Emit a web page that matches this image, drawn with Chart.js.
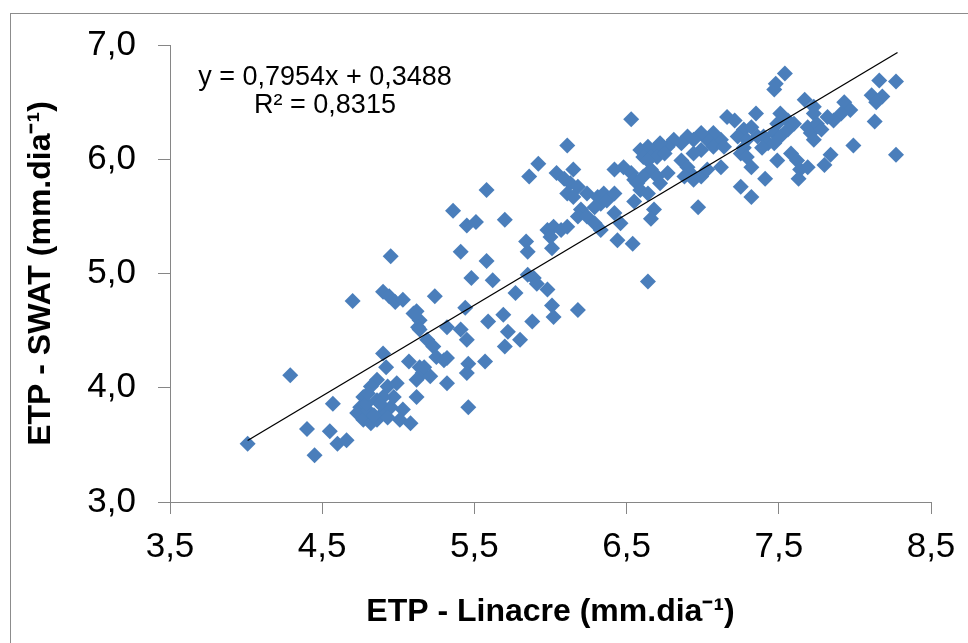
<!DOCTYPE html>
<html lang="pt">
<head>
    <meta charset="UTF-8">
    <title>ETP - Linacre x ETP - SWAT</title>
    <!-- Chart.js dal CDN -->
    <script src="https://cdn.jsdelivr.net/npm/chart.js"></script>
    <style>
        body {
            margin: 0;
            background: #fff;
        }
        canvas {
            display: block;
        }
    </style>
</head>
<body>
    <canvas id="scatterChart" width="968" height="643"></canvas>

    <script>
        // ETP - Linacre (x) e ETP - SWAT (y)
        var etpLinacre = [
            4.95, 4.90, 4.94, 4.98, 5.03, 4.70, 5.24, 5.12, 5.14, 5.13,
            5.32, 4.90, 4.92, 5.07, 5.14, 5.16, 5.12, 5.32, 5.32, 4.29,
            4.57, 4.86, 4.82, 4.77, 4.75, 4.73, 4.77, 4.82, 4.86, 4.90,
            4.95, 4.97, 4.93, 4.99, 5.03, 5.01, 4.86, 4.90, 5.08, 4.40,
            4.55, 4.60, 4.66, 4.45, 4.01, 4.80, 4.84, 4.88, 4.79, 4.93,
            4.80,
            5.92, 5.86, 6.04, 6.09, 6.15, 6.13, 6.18, 6.11, 6.15, 6.42,
            6.48, 6.53, 6.55, 6.24, 6.31, 6.35, 6.33, 6.37, 6.42, 6.29,
            6.20, 6.18, 6.24, 6.29, 6.33, 6.42, 6.46, 6.44, 6.54, 6.55,
            5.58, 5.36, 5.45, 5.51, 5.70, 5.98, 6.02, 6.07, 6.11, 6.00,
            5.41, 5.58, 5.84, 5.85, 6.01, 5.48, 5.62, 5.85, 5.89, 5.91,
            5.98, 5.77, 5.44, 6.01, 6.02, 6.18, 5.88, 5.59, 5.69, 5.72,
            5.70, 5.80, 5.41, 5.45, 5.46, 5.45, 5.57, 5.10, 5.14, 5.19,
            5.23, 5.25, 5.30, 5.17, 5.21, 6.11, 5.46, 5.12,
            6.53, 7.67, 7.73, 7.47, 7.16, 7.21, 7.35, 7.51, 7.56, 7.49,
            7.60, 7.47, 7.51, 7.56, 7.69, 7.71, 7.73, 7.27, 7.32, 7.23,
            7.29, 7.36, 7.40, 7.43, 7.39, 7.47, 7.12, 7.07, 7.03, 6.99,
            6.94, 6.90, 6.86, 6.99, 6.94, 7.07, 7.14, 7.27, 7.25, 7.29,
            6.81, 6.77, 6.72, 6.68, 6.64, 6.59, 6.61, 6.66, 6.70, 6.75,
            6.86, 6.90, 6.92, 6.88, 6.94, 6.99, 7.03, 7.12, 7.32, 7.41,
            7.49, 7.58, 7.62, 7.64, 7.63, 7.25, 7.32, 6.97, 6.64, 6.66,
            6.61, 6.57, 6.59, 6.64, 6.70, 6.72, 6.77, 6.68, 6.66, 6.64,
            7.54, 7.48, 8.16, 8.27, 8.11, 8.18, 8.14, 7.93, 7.97, 7.91,
            7.86, 7.82, 8.13, 7.99, 8.27, 7.73, 7.75, 7.78, 7.84, 7.80,
            7.69
        ];
        var etpSwat = [
            5.15, 4.84, 4.80, 4.75, 4.77, 4.76, 4.80, 4.67, 4.59, 4.53,
            4.53, 4.30, 4.18, 4.23, 4.18, 4.13, 4.07, 4.26, 4.04, 4.11,
            3.86, 4.07, 4.01, 3.92, 3.83, 3.78, 3.72, 3.69, 3.72, 3.78,
            3.83, 3.92, 4.01, 4.04, 3.81, 3.72, 3.89, 3.92, 3.69, 3.64,
            3.62, 3.51, 3.54, 3.41, 3.51, 3.80, 3.76, 3.86, 3.86, 3.74,
            3.95,
            5.96, 5.85, 5.88, 5.83, 5.91, 5.79, 5.76, 5.70, 5.67, 5.91,
            5.93, 5.88, 5.82, 5.70, 5.67, 5.70, 5.61, 5.64, 5.70, 5.58,
            5.56, 5.50, 5.50, 5.44, 5.38, 5.53, 5.44, 5.29, 5.26, 5.63,
            5.73, 5.55, 5.42, 5.45, 5.47, 5.38, 5.41, 5.38, 5.41, 5.32,
            5.19, 5.11, 5.28, 5.19, 5.22, 4.96, 4.94, 4.99, 4.96, 4.91,
            4.86, 4.83, 4.70, 4.72, 4.62, 4.68, 4.58, 4.58, 4.64, 4.49,
            4.36, 4.42, 4.51, 4.42, 4.21, 4.13, 4.23, 4.65, 4.51, 4.42,
            4.36, 4.27, 4.24, 4.18, 4.10, 6.12, 3.83, 3.92,
            6.35, 6.52, 6.46, 6.61, 6.37, 6.34, 6.40, 6.40, 6.34, 6.31,
            6.31, 6.23, 6.20, 6.26, 6.28, 6.23, 6.17, 6.26, 6.28, 6.20,
            6.17, 6.20, 6.20, 6.14, 6.10, 6.14, 6.17, 6.23, 6.17, 6.23,
            6.17, 6.20, 6.14, 6.08, 6.05, 6.11, 6.11, 6.10, 6.05, 6.02,
            6.17, 6.11, 6.14, 6.08, 6.11, 6.08, 6.02, 6.02, 6.02, 6.05,
            5.99, 5.93, 5.88, 5.85, 5.82, 5.85, 5.91, 5.93, 5.93, 5.83,
            5.99, 6.05, 5.99, 5.91, 5.83, 5.76, 5.67, 5.58, 5.99, 5.91,
            5.85, 5.79, 5.73, 5.70, 5.85, 5.79, 5.88, 5.56, 5.48, 4.93,
            6.75, 6.66, 6.69, 6.68, 6.56, 6.55, 6.50, 6.50, 6.43, 6.40,
            6.34, 6.37, 6.33, 6.12, 6.04, 6.40, 6.31, 6.26, 6.04, 5.95,
            5.93
        ];

        // linha de tendencia (Excel)
        var trendSlope = 0.7954;
        var trendIntercept = 0.3488;
        var trendRange = [4.01, 8.28];
        var equationLines = ['y = 0,7954x + 0,3488', 'R² = 0,8315'];

        // ticks dos eixos
        var xTickValues = [3.5, 4.5, 5.5, 6.5, 7.5, 8.5];
        var yTickValues = [3.0, 4.0, 5.0, 6.0, 7.0];

        var xTitle = 'ETP - Linacre (mm.dia⁻¹)';
        var yTitle = 'ETP - SWAT (mm.dia⁻¹)';

        var points = etpLinacre.map(function (x, i) {
            return { x: x, y: etpSwat[i] };
        });
        var trendPoints = trendRange.map(function (x) {
            return { x: x, y: trendSlope * x + trendIntercept };
        });

        function fmtComma(v) {
            return v.toFixed(1).replace('.', ',');
        }

        // bordo esterno grigio + testo equazione
        var decorPlugin = {
            id: 'decor',
            beforeDraw: function (chart) {
                var ctx = chart.ctx;
                ctx.save();
                ctx.fillStyle = '#ffffff';
                ctx.fillRect(0, 0, chart.width, chart.height);
                ctx.strokeStyle = '#8c8c8c';
                ctx.lineWidth = 1;
                ctx.strokeRect(10.5, 13.5, 1000, 700);
                ctx.restore();
            },
            afterDatasetsDraw: function (chart) {
                var ctx = chart.ctx;
                ctx.save();
                ctx.fillStyle = '#000';
                ctx.font = '27px "Liberation Sans", Arial, sans-serif';
                ctx.textAlign = 'center';
                ctx.textBaseline = 'middle';
                ctx.fillText(equationLines[0], 325, 78);
                ctx.fillText(equationLines[1], 325, 106);
                ctx.restore();
            }
        };

        Chart.defaults.font.family = '"Liberation Sans", Arial, sans-serif';
        Chart.defaults.color = '#000';

        var ctx = document.getElementById('scatterChart').getContext('2d');
        var myChart = new Chart(ctx, {
            type: 'scatter',
            data: {
                datasets: [{
                    type: 'line',
                    label: 'Linear',
                    data: trendPoints,
                    borderColor: '#000',
                    borderWidth: 1.3,
                    pointRadius: 0,
                    fill: false
                }, {
                    label: 'ETP',
                    data: points,
                    pointStyle: 'rectRot',
                    pointRadius: 8,
                    pointHoverRadius: 8,
                    backgroundColor: '#4A7EBB',
                    borderColor: '#4A7EBB',
                    borderWidth: 0
                }]
            },
            options: {
                responsive: false,
                animation: false,
                layout: {
                    padding: { top: 45, right: 37, left: 10, bottom: 0 }
                },
                plugins: {
                    legend: { display: false },
                    tooltip: { enabled: false }
                },
                scales: {
                    x: {
                        type: 'linear',
                        min: 3.5,
                        max: 8.5,
                        afterBuildTicks: function (s) {
                            s.ticks = xTickValues.map(function (v) { return { value: v }; });
                        },
                        afterFit: function (s) { s.height = 141; },
                        grid: {
                            drawOnChartArea: false,
                            drawTicks: true,
                            tickLength: 12,
                            color: '#868686'
                        },
                        border: { color: '#868686', width: 1 },
                        ticks: {
                            padding: 12,
                            font: { size: 35 },
                            callback: function (v) { return fmtComma(v); }
                        },
                        title: {
                            display: true,
                            text: xTitle,
                            font: { size: 32, weight: 'bold' },
                            padding: { top: 12, bottom: 12 }
                        }
                    },
                    y: {
                        type: 'linear',
                        min: 3,
                        max: 7,
                        afterBuildTicks: function (s) {
                            s.ticks = yTickValues.map(function (v) { return { value: v }; });
                        },
                        afterFit: function (s) { s.width = 160; },
                        grid: {
                            drawOnChartArea: false,
                            drawTicks: true,
                            tickLength: 12,
                            color: '#868686'
                        },
                        border: { color: '#868686', width: 1 },
                        ticks: {
                            padding: 22,
                            font: { size: 35 },
                            callback: function (v) { return fmtComma(v); }
                        },
                        title: {
                            display: true,
                            text: yTitle,
                            font: { size: 32, weight: 'bold' },
                            padding: { top: 12, bottom: 5 }
                        }
                    }
                }
            },
            plugins: [decorPlugin]
        });
    </script>
</body>
</html>
